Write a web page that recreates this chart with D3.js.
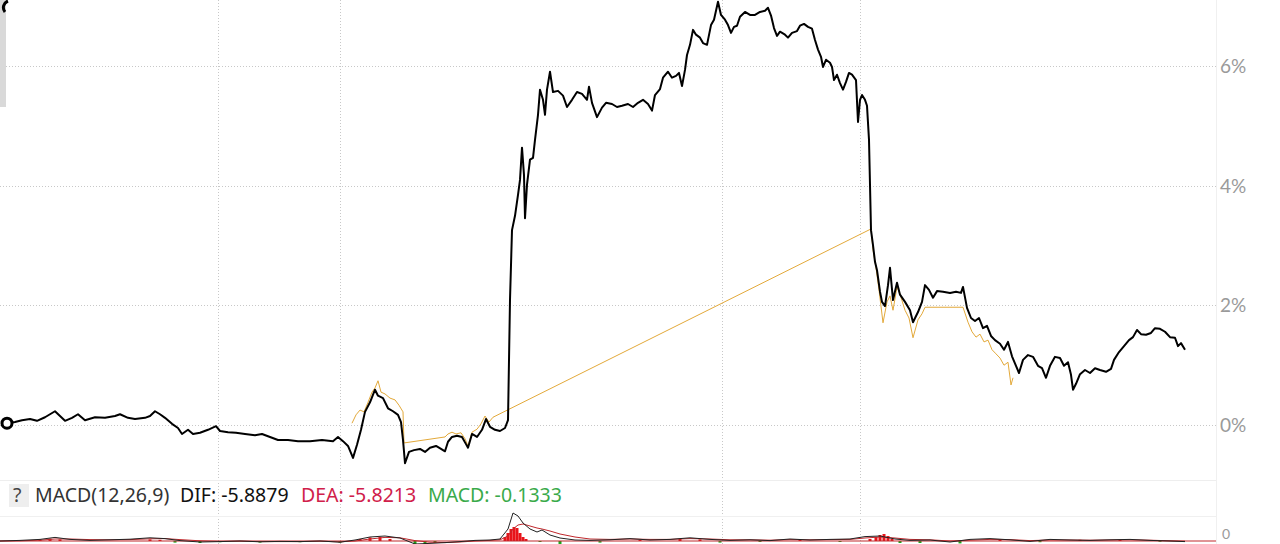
<!DOCTYPE html>
<html><head><meta charset="utf-8">
<script src="https://cdn.jsdelivr.net/npm/d3@7"></script>
<style>html,body{margin:0;padding:0;background:#fff;overflow:hidden}</style>
</head><body>
<svg id="c" width="1280" height="544"></svg>
<script>
// ---- data ----
const priceT=[8,15,22,30,37,45,50,55,60,65,72,78,85,95,105,115,120,128,135,145,150,155,160,165,172,178,182,188,193,200,208,216,220,228,236,245,255,262,270,278,288,298,310,322,333,338,343,348,353,357,361,365,370,375,378,383,388,393,398,401,403,405,409,414,420,425,430,436,441,445,448,452,457,462,466,468,472,477,482,486,490,495,500,505,508,510,512,515,518,520,522,524,525,527,530,533,535,538,540,543,545,547,550,553,558,563,567,572,577,582,587,589,592,597,602,606,612,617,622,628,633,638,643,648,652,655,660,663,668,672,676,679,682,685,687,690,693,696,700,703,707,711,714,718,721,725,728,731,734,737,740,745,750,755,760,765,768,771,774,777,780,785,788,792,797,800,804,808,812,815,818,821,823,826,830,832,834,837,840,843,846,849,852,856,858,860,862,865,867,869,870,871,873,875,877,880,882,885,888,890,893,897,900,905,910,913,918,922,925,929,933,937,943,950,956,961,963,967,971,975,979,983,987,991,995,1000,1004,1008,1012,1016,1019,1023,1028,1033,1038,1042,1046,1050,1055,1060,1064,1068,1071,1073,1076,1080,1085,1090,1095,1100,1106,1111,1114,1119,1124,1129,1133,1137,1141,1146,1151,1155,1160,1165,1170,1175,1178,1181,1185];
const priceV=[0.03,0.05,0.08,0.10,0.07,0.13,0.18,0.23,0.15,0.07,0.12,0.18,0.08,0.13,0.12,0.15,0.18,0.12,0.10,0.12,0.15,0.23,0.18,0.12,0.02,-0.05,-0.15,-0.08,-0.15,-0.13,-0.08,-0.02,-0.10,-0.12,-0.13,-0.15,-0.17,-0.15,-0.20,-0.25,-0.25,-0.27,-0.27,-0.25,-0.27,-0.20,-0.27,-0.35,-0.55,-0.33,-0.08,0.22,0.38,0.59,0.49,0.45,0.28,0.23,0.17,0.05,-0.25,-0.64,-0.45,-0.42,-0.40,-0.45,-0.38,-0.35,-0.40,-0.44,-0.28,-0.20,-0.18,-0.20,-0.32,-0.38,-0.15,-0.20,-0.08,0.10,-0.03,-0.08,-0.10,-0.05,0.08,2.09,3.26,3.50,3.85,4.10,4.64,4.18,3.46,4.02,4.44,4.47,4.77,5.19,5.61,5.44,5.19,5.61,5.91,5.57,5.59,5.51,5.32,5.44,5.57,5.54,5.44,5.66,5.39,5.15,5.31,5.39,5.37,5.32,5.34,5.37,5.32,5.39,5.44,5.37,5.26,5.52,5.62,5.81,5.91,5.81,5.84,5.89,5.67,5.94,6.19,6.36,6.61,6.53,6.48,6.39,6.36,6.69,6.78,7.08,6.86,6.78,6.69,6.56,6.66,6.68,6.83,6.91,6.86,6.86,6.91,6.93,6.98,6.85,6.64,6.51,6.58,6.53,6.48,6.56,6.59,6.68,6.71,6.66,6.63,6.44,6.28,6.16,5.99,6.11,6.06,5.99,5.77,5.86,5.72,5.61,5.74,5.89,5.86,5.77,5.07,5.44,5.52,5.44,5.34,4.77,4.02,3.26,3.01,2.73,2.59,2.23,2.06,1.99,2.34,2.63,2.09,2.38,2.18,2.06,1.92,1.72,1.89,2.06,2.34,2.26,2.13,2.24,2.23,2.21,2.23,2.21,2.31,1.96,1.79,1.74,1.79,1.62,1.66,1.49,1.42,1.36,1.26,1.39,1.15,0.99,0.87,1.09,1.17,1.14,0.99,0.95,0.79,0.99,1.14,1.12,0.99,1.05,0.84,0.59,0.69,0.85,0.92,0.87,0.95,0.92,0.89,0.94,1.09,1.22,1.32,1.42,1.47,1.59,1.52,1.51,1.54,1.62,1.61,1.56,1.47,1.46,1.32,1.37,1.26];
const avgT=[352,356,360,364,368,372,375,378,381,385,390,395,399,403,404,445,448,452,456,461,465,468,472,477,481,485,489,493,871,873,876,879,883,887,890,893,897,900,905,909,913,918,922,925,963,968,972,976,980,984,988,992,996,1000,1004,1008,1011,1013];
const avgV=[0.03,0.17,0.25,0.22,0.38,0.55,0.62,0.74,0.55,0.52,0.45,0.42,0.33,0.22,-0.30,-0.20,-0.15,-0.12,-0.15,-0.13,-0.23,-0.35,-0.12,-0.07,0.02,0.15,0.05,0.13,3.28,2.93,2.63,2.26,1.71,2.06,2.16,1.92,2.31,2.19,1.92,1.79,1.46,1.76,1.86,1.97,1.97,1.72,1.56,1.47,1.52,1.39,1.42,1.26,1.19,1.12,1.00,1.05,0.67,0.79];
const yTicks=[0,2,4,6];
const yTickLabels=["0%","2%","4%","6%"];
const gridT=[218,340,722,860];
// MACD panel
const macdT=[0,20,40,55,70,90,110,130,150,165,180,200,220,240,260,280,300,320,340,355,370,385,400,415,430,445,460,475,490,500,508,513,518,523,530,537,542,550,560,575,590,610,630,650,670,690,710,730,750,770,790,810,830,850,865,880,895,910,930,950,970,990,1010,1030,1050,1070,1090,1110,1130,1150,1170,1185];
const difV=[0,0.3,0.8,1.8,0.8,0.3,0.6,0.9,1.6,1.2,0.2,-0.5,-0.3,0,-0.4,-0.2,-0.3,0,-0.6,0.5,2,2.5,1.5,-1.5,-1.2,-0.8,-0.3,0.3,0.5,1,6,14,12.5,9,6,4.5,5.5,3,1.5,0.5,0.3,0.6,1.2,0.5,0.8,1.6,0.8,0.3,0.6,0.2,1,0.5,0.8,1,2.2,2.5,1,0.3,0.5,-0.5,0.8,1.2,0.6,-0.2,0.8,0.5,0.3,0.6,0.8,0.3,0,-0.3];
const deaV=[0,0.1,0.4,1.0,1.0,0.7,0.6,0.7,1.1,1.2,0.7,0.1,-0.2,-0.1,-0.3,-0.3,-0.3,-0.1,-0.4,0,1,1.8,1.6,0.2,-0.6,-0.8,-0.5,0,0.3,0.6,2.5,6,8,8.5,7.5,6.5,6,5,3.5,2,1,0.8,1,0.8,0.8,1.2,1,0.6,0.6,0.4,0.7,0.6,0.7,0.8,1.5,2,1.5,0.8,0.6,0,0.4,0.8,0.7,0.2,0.5,0.5,0.4,0.5,0.6,0.4,0.1,-0.1];
const histT=[40,50,60,150,160,175,200,220,260,300,340,360,370,380,390,415,425,435,505,508,511,514,517,520,523,526,540,560,600,640,680,700,720,760,800,840,870,876,880,884,888,892,900,920,960,1000,1040,1080,1120,1160];
const histV=[0.8,1.2,0.8,0.8,0.6,-0.8,-1,-0.6,-0.8,-0.6,-0.8,1,1.8,2,1,-2,-1.6,-1,2,4,6,7,6.5,4,2,1,-0.5,-1.5,-0.8,0.5,1,0.8,-0.8,-0.5,0.6,-0.5,1,2,3,3.5,2.5,1,-1,-1,-1.2,0.6,-0.6,0.6,0.5,-0.4];

// ---- drawing ----
const svg=d3.select("#c");
const W=1216, H1=480, M0=481, M1=544;
const x=d3.scaleLinear().domain([0,1216]).range([0,W]);
const y=d3.scaleLinear().domain([-0.92,7.11]).range([H1,0]);
const ym=d3.scaleLinear().domain([-1.5,30]).range([M1,M0]);

const defs=svg.append("defs");
defs.append("clipPath").attr("id","cm").append("rect").attr("x",0).attr("y",0).attr("width",W).attr("height",H1);
defs.append("clipPath").attr("id","cb").append("rect").attr("x",0).attr("y",M0).attr("width",W).attr("height",M1-M0);

const grid=svg.append("g").attr("stroke","#c8c8c8").attr("stroke-dasharray","1,2").attr("stroke-width",1);
grid.selectAll("line.h").data(yTicks).join("line").attr("class","h")
  .attr("x1",0).attr("x2",W).attr("y1",d=>Math.round(y(d))+0.5).attr("y2",d=>Math.round(y(d))+0.5);
grid.selectAll("line.v").data(gridT).join("line").attr("class","v")
  .attr("x1",d=>Math.round(x(d))+0.5).attr("x2",d=>Math.round(x(d))+0.5).attr("y1",0).attr("y2",M1);
// panel separators
svg.append("line").attr("x1",0).attr("x2",W).attr("y1",480.5).attr("y2",480.5).attr("stroke","#eeeeee");
svg.append("line").attr("x1",0).attr("x2",W).attr("y1",516.5).attr("y2",516.5).attr("stroke","#f0f0f0");
svg.append("line").attr("x1",W+0.5).attr("x2",W+0.5).attr("y1",0).attr("y2",M1).attr("stroke","#f0f0f0");
// left gray bar
svg.append("rect").attr("x",0).attr("y",0).attr("width",6).attr("height",107).attr("fill","#d9d9d9");

// right axis labels
const axis=d3.axisRight(y).tickValues(yTicks).tickFormat((d,i)=>yTickLabels[i]).tickSize(0).tickPadding(4);
const ag=svg.append("g").attr("transform",`translate(${W},0)`).call(axis);
ag.select(".domain").remove();
ag.selectAll("text").attr("fill","#9a9a9a").attr("font-family","Lato, 'Open Sans', sans-serif").attr("font-size",19).attr("dy","0.34em");

// lines
const mainG=svg.append("g").attr("clip-path","url(#cm)");
const avgData=avgT.map((t,i)=>[t,avgV[i]]);
const priceData=priceT.map((t,i)=>[t,priceV[i]]);
mainG.append("path").datum(avgData).attr("fill","none").attr("stroke","#e3a93a").attr("stroke-width",1)
  .attr("d",d3.line().x(d=>x(d[0])).y(d=>y(d[1])));
mainG.append("path").datum(priceData).attr("fill","none").attr("stroke","#000").attr("stroke-width",2).attr("stroke-linejoin","round")
  .attr("d",d3.line().x(d=>x(d[0])).y(d=>y(d[1])));
// start marker
mainG.append("circle").attr("cx",x(priceT[0])-1).attr("cy",y(priceV[0])).attr("r",5).attr("fill","#fff").attr("stroke","#000").attr("stroke-width",3);
mainG.append("path").attr("d","M8,1 A7,7 0 0 0 5,12").attr("fill","none").attr("stroke","#000").attr("stroke-width",3);

// MACD panel
const mg=svg.append("g").attr("clip-path","url(#cb)");
mg.selectAll("rect").data(histT.map((t,i)=>[t,histV[i]])).join("rect")
  .attr("x",d=>x(d[0])-1.5).attr("width",3)
  .attr("y",d=>d[1]>=0?ym(d[1]):ym(0)).attr("height",d=>Math.abs(ym(d[1])-ym(0)))
  .attr("fill",d=>d[1]>=0?"#e8141a":"#1aa51a");
mg.append("line").attr("x1",0).attr("x2",W).attr("y1",ym(0)).attr("y2",ym(0)).attr("stroke","#c0282c").attr("stroke-width",1);
mg.append("path").datum(macdT.map((t,i)=>[t,deaV[i]])).attr("fill","none").attr("stroke","#c0282c").attr("stroke-width",1)
  .attr("d",d3.line().x(d=>x(d[0])).y(d=>ym(d[1])));
mg.append("path").datum(macdT.map((t,i)=>[t,difV[i]])).attr("fill","none").attr("stroke","#222").attr("stroke-width",1)
  .attr("d",d3.line().x(d=>x(d[0])).y(d=>ym(d[1])));
svg.append("text").attr("x",W+6).attr("y",539).attr("fill","#9a9a9a").attr("font-family","Lato, sans-serif").attr("font-size",14).text("0");

// legend
svg.append("rect").attr("x",9).attr("y",484).attr("width",20).attr("height",23).attr("fill","#eeeeee");
const lg=svg.append("text").attr("x",13).attr("y",502).attr("font-family","'Noto Sans', 'Open Sans', sans-serif").attr("font-size",19.5);
lg.append("tspan").attr("fill","#444").text("?");
lg.append("tspan").attr("x",35).attr("fill","#333").text("MACD(12,26,9)");
lg.append("tspan").attr("x",180).attr("fill","#111").text("DIF: -5.8879");
lg.append("tspan").attr("x",301).attr("fill","#d0204a").text("DEA: -5.8213");
lg.append("tspan").attr("x",428).attr("fill","#3aaa4a").text("MACD: -0.1333");
</script>
</body></html>
